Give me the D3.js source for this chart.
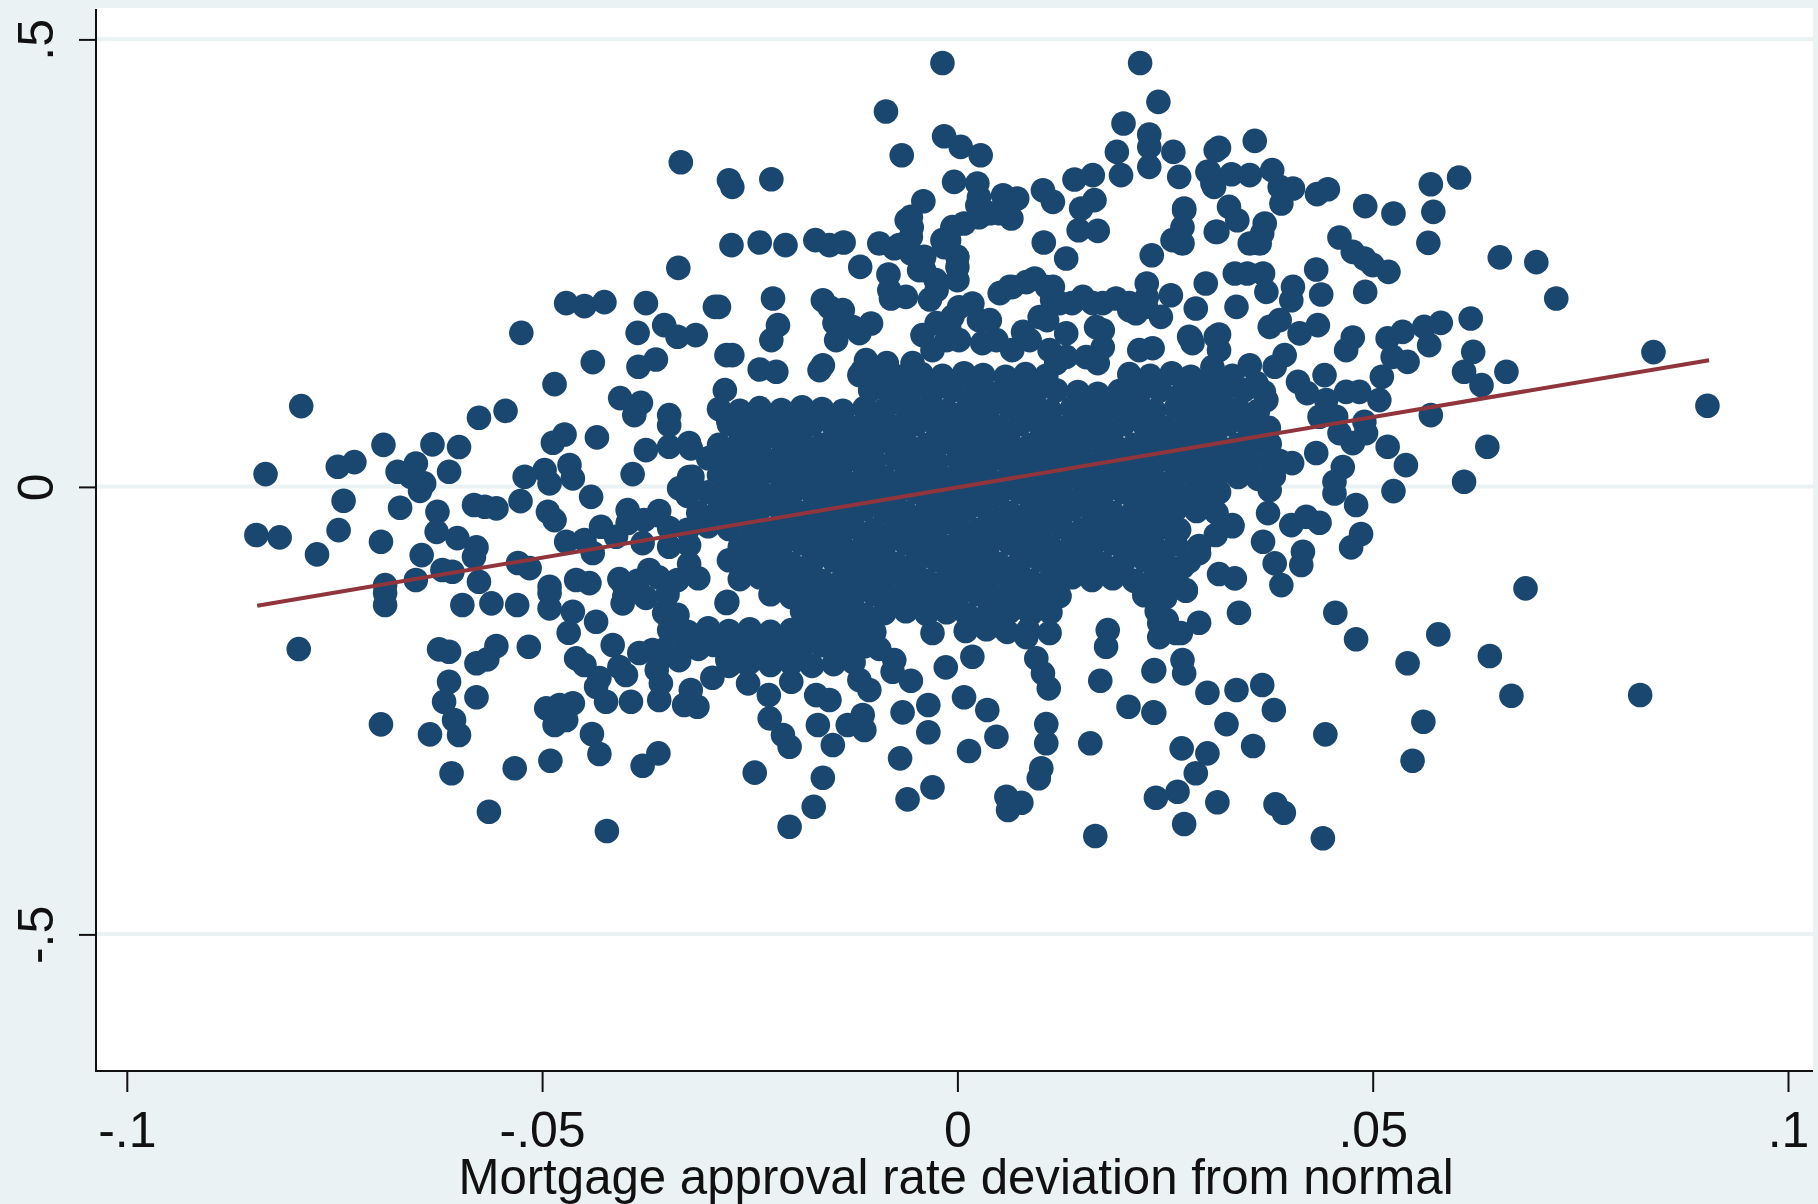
<!DOCTYPE html>
<html>
<head>
<meta charset="utf-8">
<script src="https://cdn.jsdelivr.net/npm/d3@7"></script>
<style>
  html, body { margin: 0; padding: 0; background: #eaf2f3; }
  svg { display: block; }
  text { font-family: "Liberation Sans", Arial, sans-serif; fill: #111; }
</style>
</head>
<body>
<script>
// values: [approval rate deviation, outcome deviation]
var leftPoints = [[-.0790,.0903],[-.0833,.0143],[-.0844,-.0538],[-.0816,-.0564],[-.0771,-.0754],[-.0745,-.0483],[-.0739,-.0155],[-.0746,.0225],[-.0726,.0277],[-.0691,.0470],[-.0632,.0475],[-.0600,.0445],[-.0576,.0772],[-.0544,.0850],[-.0525,.1721],[-.0485,.1148],[-.0439,.1394],[-.0385,.1721],[-.0353,.1807],[-.0337,.1677],[-.0315,.1696],[-.0384,.1342],[-.0363,.1424],[-.0406,.0992],[-.0381,.0939],[-.0389,.0802],[-.0347,.0802],[-.0347,.0690],[-.0434,.0553],[-.0473,.0586],[-.0487,.0493],[-.0292,.2012],[-.0375,.2053],[-.0471,.2053],[-.0449,.2020],[-.0425,.2064],[-.0278,.1472],[-.0280,.1081],[-.0276,.0746],[-.0674,.0169],[-.0652,.0262],[-.0658,.0113],[-.0642,.0039],[-.0647,-.0044],[-.0612,.0169],[-.0671,-.0233],[-.0626,-.0278],[-.0627,-.0502],[-.0602,-.0572],[-.0579,-.0676],[-.0582,-.0781],[-.0645,-.0762],[-.0652,-.1041],[-.0620,-.0929],[-.0608,-.0948],[-.0576,-.1060],[-.0689,-.1097],[-.0694,-.0613],[-.0582,-.0203],[-.0569,-.0222],[-.0555,-.0240],[-.0526,-.0159],[-.0521,.0113],[-.0497,.0188],[-.0467,.0244],[-.0463,.0095],[-.0491,.0039],[-.0441,-.0111],[-.0493,-.0278],[-.0485,-.0371],[-.0471,-.0613],[-.0449,-.0594],[-.0429,-.0446],[-.0397,-.0259],[-.0397,-.0404],[-.0377,-.0371],[-.0361,-.0315],[-.0411,-.0557],[-.0439,-.0739],[-.0529,-.0851],[-.0515,-.0907],[-.0491,-.1116],[-.0459,-.1041],[-.0443,-.1075],[-.0391,.0143],[-.0375,.0411],[-.0347,.0448],[-.0321,.0430],[-.0295,.0336],[-.0335,-.0017],[-.0319,.0113],[-.0347,-.0669],[-.0379,-.0628],[-.0403,-.1075],[-.0371,-.0929],[-.0333,.3628],[-.0336,.2447]];
var lowerLeftPoints = [[-.0793,-.1812],[-.0694,-.2653],[-.0635,-.2765],[-.0600,-.2772],[-.0606,-.2605],[-.0618,-.2400],[-.0612,-.2177],[-.0579,-.2351],[-.0609,-.3200],[-.0533,-.3144],[-.0490,-.3059],[-.0564,-.3629],[-.0422,-.3845],[-.0440,-.2761],[-.0431,-.2985],[-.0379,-.3115],[-.0360,-.2977],[-.0624,-.1815],[-.0612,-.1842],[-.0579,-.1971],[-.0566,-.1927],[-.0555,-.1778],[-.0516,-.1786],[-.0689,-.1320],[-.0689,-.1186],[-.0596,-.1320],[-.0561,-.1301],[-.0530,-.1320],[-.0491,-.1357],[-.0491,-.1186],[-.0463,-.1395],[-.0468,-.1630],[-.0435,-.1507],[-.0459,-.1916],[-.0449,-.1990],[-.0431,-.2136],[-.0435,-.2233],[-.0423,-.2400],[-.0415,-.1767],[-.0393,-.2400],[-.0359,-.2381],[-.0357,-.2195],[-.0329,-.2437],[-.0313,-.2456],[-.0321,-.2270],[-.0295,-.2132],[-.0495,-.2474],[-.0479,-.2437],[-.0463,-.2418],[-.0485,-.2661],[-.0471,-.2605],[-.0403,-.1301],[-.0367,-.1823],[-.0338,-.1745],[-.0323,-.1633],[-.0350,-.1376],[-.0407,-.2013],[-.0399,-.2102],[-.0383,-.1856],[-.0355,-.1901],[-.0335,-.1935],[-.0362,-.2046],[-.0293,-.1767],[-.0277,-.1935],[-.0278,-.1298]];
var topPoints = [[-.0018,.4737],[.0220,.4737],[.0242,.4302],[-.0086,.4194],[.0200,.4060],[.0231,.3937],[.0231,.3799],[.0231,.3576],[.0260,.3743],[.0267,.3464],[.0192,.3743],[.0197,.3483],[.0141,.3435],[.0163,.3483],[.0165,.3204],[.0149,.3111],[.0146,.2868],[.0169,.2861],[-.0016,.3918],[.0004,.3799],[.0028,.3706],[-.0067,.3706],[-.0004,.3408],[.0024,.3390],[.0024,.3148],[.0008,.2943],[-.0010,.2757],[-.0041,.3192],[-.0056,.3017],[-.0056,.2794],[-.0094,.2720],[-.0076,.2667],[-.0040,.2570],[-.0026,.2310],[-.0046,.2422],[.0000,.2458],[-.0117,.2458],[-.0083,.2374],[-.0080,.2105],[-.0062,.2123],[-.0033,.2094],[.0055,.3259],[.0072,.3222],[.0065,.2999],[.0051,.3058],[.0103,.3315],[.0115,.3185],[.0104,.2731],[.0131,.2552],[.0273,.3111],[.0259,.2757],[.0269,.2738],[.0234,.2589],[.0303,.3520],[.0311,.3762],[.0307,.3393],[.0311,.2849],[-.0272,.2701],[-.0238,.2731],[-.0207,.2701],[-.0171,.2757],[-.0154,.2701],[-.0137,.2731],[-.0275,.3427],[-.0271,.3352],[-.0224,.3438],[-.0222,.2105],[-.0216,.1807],[-.0224,.1640],[-.0271,.1472],[-.0238,.1312],[-.0218,.1286],[-.0287,.2012],[-.0162,.2086],[-.0138,.1975],[-.0142,.1751],[-.0104,.1826],[-.0146,.1640],[-.0162,.1360],[-.0110,.1416],[-.0042,.1696],[-.0006,.1900],[.0018,.2050],[.0039,.1863],[.0063,.2235],[.0093,.2329],[.0115,.2235],[.0151,.2123],[.0191,.2105],[.0228,.2273],[.0257,.2142],[.0299,.2273],[.0287,.1994],[.0227,.2012],[.0245,.1900],[.0215,.1941],[.0279,.1677],[.0283,.1606],[.0219,.1528],[.0235,.1550],[.0311,.1677],[.0079,.1732],[.0131,.1715],[.0131,.1453],[.0175,.1751],[.0169,.1383],[.0119,.1383]];
var bridgePoints = [[.0051,.2165],[.0066,.2232],[.0083,.2288],[.0108,.2232],[.0114,.2087],[.0108,.1863],[.0099,.1897],[.0123,.2053],[.0138,.2053],[.0163,.2053],[.0175,.2053],[.0207,.2053],[.0228,.2120],[.0207,.1975],[.0167,.1785],[.0175,.1561],[.0002,.2008],[-.0010,.1785],[-.0025,.1830],[.0002,.1640],[.0026,.1863],[.0030,.1606],[.0047,.1640],[.0066,.1528],[.0087,.1640],[.0111,.1528],[.0155,.1450],[-.0013,.1640],[-.0030,.1528],[-.0054,.1383],[-.0085,.1383],[-.0114,.1305],[-.0154,.2008],[-.0148,.1830],[-.0126,.1785],[-.0118,.1718],[-.0166,.1305],[-.0070,.2701],[-.0056,.2611],[-.0040,.2422],[-.0025,.2199],[.0000,.2570],[.0000,.2310],[-.0082,.2199],[-.0006,.2902],[-.0018,.2757],[-.0016,.2679],[.0039,.3058],[.0026,.3237],[.0026,.3013],[-.0055,.2902],[-.0061,.2980]];
var upperRightPoints = [[.0358,.3866],[.0315,.3788],[.0301,.3520],[.0309,.3352],[.0330,.3494],[.0352,.3483],[.0379,.3539],[.0388,.3352],[.0404,.3334],[.0390,.3167],[.0433,.3271],[.0446,.3326],[.0491,.3137],[.0525,.3055],[.0570,.3382],[.0604,.3457],[.0573,.3073],[.0567,.2727],[.0653,.2564],[.0697,.2511],[.0721,.2105],[.0460,.2787],[.0476,.2626],[.0490,.2552],[.0500,.2478],[.0519,.2403],[.0491,.2179],[.0327,.3129],[.0337,.2980],[.0313,.2849],[.0370,.2943],[.0367,.2835],[.0352,.2720],[.0364,.2720],[.0273,.3092],[.0271,.2720],[.0271,.2902],[.0334,.2385],[.0349,.2385],[.0368,.2385],[.0372,.2179],[.0432,.2429],[.0438,.2150],[.0404,.2235],[.0402,.2086],[.0336,.2012],[.0388,.1863],[.0376,.1788],[.0412,.1715],[.0434,.1807],[.0281,.1662],[.0315,.1703],[.0315,.1528],[.0352,.1360],[.0394,.1472],[.0382,.1342],[.0476,.1670],[.0468,.1528],[.0518,.1659],[.0536,.1732],[.0562,.1788],[.0582,.1833],[.0568,.1584],[.0524,.1453],[.0542,.1397],[.0618,.1882],[.0621,.1509],[.0610,.1286],[.0631,.1137],[.0661,.1286],[.0511,.1230],[.0508,.0970],[.0442,.1249],[.0410,.1174],[.0421,.1048],[.0468,.1062],[.0484,.1062],[.0444,.0970],[.0436,.0783],[.0456,.0783],[.0490,.0727],[.0570,.0802],[.0638,.0448],[.0518,.0448],[.0540,.0243],[.0492,.0601],[.0464,.0221],[.0476,.0489],[.0432,.0378],[.0403,.0266],[.0460,.0601],[.0307,.1338],[.0327,.1159],[.0360,.1159],[.0348,.0780],[.0307,.0780],[.0372,.0970],[.0838,.1506],[.0903,.0906]];
var lowerRightPoints = [[.0610,.0057],[.0525,-.0047],[.0480,-.0203],[.0454,-.0073],[.0454,.0057],[.0486,-.0527],[.0474,-.0676],[.0684,-.1134],[.0579,-.1648],[.0641,-.1890],[.0667,-.2333],[.0455,-.1406],[.0480,-.1703],[.0542,-.1971],[.0561,-.2624],[.0548,-.3059],[.0443,-.2765],[.0367,-.2214],[.0381,-.2493],[.0336,-.2270],[.0301,-.2300],[.0324,-.2650],[.0356,-.2895],[.0270,-.2921],[.0301,-.2977],[.0287,-.3200],[.0265,-.3406],[.0239,-.3473],[.0313,-.3524],[.0273,-.3767],[.0383,-.3546],[.0393,-.3640],[.0440,-.3926],[.0339,-.1406],[.0291,-.1518],[.0275,-.1161],[.0315,-.0974],[.0334,-.1022],[.0390,-.1097],[.0382,-.0855],[.0368,-.0613],[.0414,-.0873],[.0416,-.0725],[.0436,-.0401],[.0420,-.0334],[.0402,-.0427],[.0376,-.0036],[.0374,-.0293],[.0271,-.1935],[.0273,-.2083],[.0237,-.2046],[.0237,-.2523],[.0269,-.1633],[.0243,-.1678],[.0311,-.0538],[.0291,-.0739],[.0271,-.0896],[.0331,-.0427],[.0252,-.1119],[.0252,-.1488],[.0311,0],[.0822,-.2325]];
var bottomPoints = [[-.0244,-.3193],[-.0162,-.3249],[-.0173,-.3573],[-.0202,-.3797],[-.0069,-.3033],[-.0030,-.3357],[-.0060,-.3491],[.0014,-.2951],[-.0066,-.2519],[-.0035,-.2437],[-.0035,-.2742],[.0008,-.2351],[.0036,-.2493],[.0047,-.2791],[.0107,-.2650],[.0107,-.2865],[.0101,-.3144],[.0098,-.3256],[.0059,-.3462],[.0061,-.3610],[.0077,-.3529],[.0166,-.3901],[.0160,-.2865],[.0206,-.2456],[.0236,-.2519],[.0172,-.2166],[.0236,-.2058],[.0095,-.1916],[.0103,-.2083],[.0110,-.2251],[-.0202,-.2903],[-.0210,-.2772],[-.0226,-.2586],[-.0227,-.2326],[-.0252,-.2195],[-.0170,-.2326],[-.0154,-.2381],[-.0168,-.2661],[-.0150,-.2884],[-.0132,-.2661],[-.0114,-.2549],[-.0112,-.2717],[-.0076,-.1935],[-.0078,-.2065],[-.0056,-.2166],[-.0014,-.2016],[.0018,-.1898],[-.0277,-.1283],[-.0200,-.2177],[-.0106,-.2270],[-.0118,-.2158],[.0179,-.1786],[.0181,-.1600],[.0275,-.1153],[.0243,-.1521],[.0263,-.1633],[-.0030,-.1633],[.0111,-.1633],[.0054,-.1566],[.0083,-.1678],[-.0254,-.1971]];
var corePoints = [
[-.0118,.125],[-.0092,.127],[-.0069,.123],[-.0043,.126],[-.0018,.124],[.0008,.127],[.0031,.125],[.0058,.123],[.0082,.126],[.0107,.124],[.0207,.126],[.0232,.124],[.0258,.127],[.0281,.123],[.0307,.126],[.0331,.124],
[-.0105,.108],[-.0081,.104],[-.0056,.107],[-.0031,.105],[-.0006,.108],[.0020,.106],[.0044,.104],[.0070,.107],[.0094,.105],[.0119,.108],[.0145,.106],[.0169,.104],[.0195,.107],[.0219,.105],[.0244,.108],[.0270,.104],[.0294,.107],[.0319,.105],[.0345,.108],[.0369,.106],
[-.0287,.087],[-.0262,.085],[-.0238,.088],[-.0212,.086],[-.0187,.089],[-.0163,.087],[-.0138,.085],[-.0112,.088],[-.0088,.086],[-.0062,.089],[-.0037,.087],[-.0013,.085],[.0012,.088],[.0037,.086],[.0063,.089],[.0088,.087],[.0112,.085],[.0138,.088],[.0162,.086],[.0187,.089],[.0213,.087],[.0237,.085],[.0263,.088],[.0288,.086],[.0312,.089],[.0338,.087],[.0362,.085],
[-.0275,.070],[-.0250,.066],[-.0225,.069],[-.0200,.067],[-.0175,.070],[-.0149,.068],[-.0125,.066],[-.0100,.069],[-.0074,.067],[-.0050,.070],[-.0025,.068],[.0001,.066],[.0025,.069],[.0050,.067],[.0075,.070],[.0100,.068],[.0125,.066],[.0150,.069],[.0175,.067],[.0200,.070],[.0226,.068],[.0250,.066],[.0275,.069],[.0300,.067],[.0325,.070],[.0350,.068],[.0375,.066],
[-.0323,.049],[-.0287,.047],[-.0262,.050],[-.0238,.048],[-.0212,.051],[-.0187,.049],[-.0163,.047],[-.0138,.050],[-.0112,.048],[-.0088,.051],[-.0062,.049],[-.0037,.047],[-.0013,.050],[.0012,.048],[.0037,.051],[.0063,.049],[.0088,.047],[.0112,.050],[.0138,.048],[.0162,.051],[.0187,.049],[.0213,.047],[.0237,.050],[.0263,.048],[.0288,.051],[.0312,.049],[.0338,.047],[.0362,.050],[.0376,.048],
[-.0300,.032],[-.0275,.028],[-.0250,.031],[-.0225,.029],[-.0200,.032],[-.0175,.030],[-.0149,.028],[-.0125,.031],[-.0100,.029],[-.0074,.032],[-.0050,.030],[-.0025,.028],[.0001,.031],[.0025,.029],[.0050,.032],[.0075,.030],[.0100,.028],[.0125,.031],[.0150,.029],[.0175,.032],[.0200,.030],[.0226,.028],[.0250,.031],[.0275,.029],[.0300,.032],[.0325,.030],[.0350,.028],[.0375,.031],[.0388,.029],
[-.0323,.011],[-.0287,.013],[-.0262,.009],[-.0238,.012],[-.0212,.010],[-.0187,.013],[-.0163,.011],[-.0138,.009],[-.0112,.012],[-.0088,.010],[-.0062,.013],[-.0037,.011],[-.0013,.009],[.0012,.012],[.0037,.010],[.0063,.013],[.0088,.011],[.0112,.009],[.0138,.012],[.0162,.010],[.0187,.013],[.0213,.011],[.0237,.009],[.0263,.012],[.0288,.010],[.0312,.013],[.0338,.011],[.0362,.009],[.0381,.012],
[-.0325,-.010],[-.0300,-.006],[-.0275,-.009],[-.0250,-.007],[-.0225,-.010],[-.0200,-.008],[-.0175,-.006],[-.0149,-.009],[-.0125,-.007],[-.0100,-.010],[-.0074,-.008],[-.0050,-.006],[-.0025,-.009],[.0001,-.007],[.0025,-.010],[.0050,-.008],[.0075,-.006],[.0100,-.009],[.0125,-.007],[.0150,-.010],[.0175,-.008],[.0200,-.006],[.0226,-.009],[.0250,-.007],[.0275,-.010],[.0300,-.008],[.0315,-.006],
[-.0359,-.027],[-.0312,-.029],[-.0287,-.026],[-.0262,-.028],[-.0238,-.025],[-.0212,-.027],[-.0187,-.029],[-.0163,-.026],[-.0138,-.028],[-.0112,-.025],[-.0088,-.027],[-.0062,-.029],[-.0037,-.026],[-.0013,-.028],[.0012,-.025],[.0037,-.027],[.0063,-.029],[.0088,-.026],[.0112,-.028],[.0138,-.025],[.0162,-.027],[.0187,-.029],[.0213,-.026],[.0237,-.028],[.0263,-.025],[.0288,-.027],[.0312,-.029],
[-.0347,-.046],[-.0325,-.048],[-.0300,-.044],[-.0275,-.047],[-.0250,-.045],[-.0225,-.048],[-.0200,-.046],[-.0175,-.044],[-.0149,-.047],[-.0125,-.045],[-.0100,-.048],[-.0074,-.046],[-.0050,-.044],[-.0025,-.047],[.0001,-.045],[.0025,-.048],[.0050,-.046],[.0075,-.044],[.0100,-.047],[.0125,-.045],[.0150,-.048],[.0175,-.046],[.0200,-.044],[.0226,-.047],[.0250,-.045],[.0267,-.048],[.0331,-.044],
[-.0323,-.065],[-.0262,-.067],[-.0238,-.064],[-.0212,-.066],[-.0187,-.063],[-.0163,-.065],[-.0138,-.067],[-.0112,-.064],[-.0088,-.066],[-.0062,-.063],[-.0037,-.065],[-.0013,-.067],[.0012,-.064],[.0037,-.066],[.0063,-.063],[.0088,-.065],[.0112,-.067],[.0138,-.064],[.0162,-.066],[.0187,-.063],[.0213,-.065],[.0237,-.067],[.0263,-.064],[.0291,-.066],
[-.0323,-.086],[-.0275,-.082],[-.0250,-.085],[-.0225,-.083],[-.0200,-.086],[-.0175,-.084],[-.0149,-.082],[-.0125,-.085],[-.0100,-.083],[-.0074,-.086],[-.0050,-.084],[-.0025,-.082],[.0001,-.085],[.0025,-.083],[.0050,-.086],[.0075,-.084],[.0100,-.082],[.0125,-.085],[.0150,-.083],[.0175,-.086],[.0200,-.084],[.0226,-.082],[.0250,-.085],[.0279,-.083],
[-.0407,-.103],[-.0385,-.105],[-.0360,-.101],[-.0337,-.104],[-.0312,-.102],[-.0262,-.103],[-.0238,-.101],[-.0212,-.104],[-.0187,-.102],[-.0163,-.105],[-.0138,-.103],[-.0112,-.101],[-.0088,-.104],[-.0062,-.102],[-.0037,-.105],[-.0013,-.103],[.0012,-.101],[.0037,-.104],[.0063,-.102],[.0088,-.105],[.0112,-.103],[.0138,-.101],[.0162,-.104],[.0187,-.102],[.0213,-.105],[.0237,-.103],[.0255,-.101],
[-.0401,-.122],[-.0375,-.124],[-.0349,-.120],[-.0225,-.120],[-.0200,-.123],[-.0175,-.121],[-.0149,-.124],[-.0125,-.122],[-.0100,-.120],[-.0074,-.123],[-.0050,-.121],[-.0025,-.124],[.0001,-.122],[.0025,-.120],[.0050,-.123],[.0075,-.121],[.0100,-.124],[.0123,-.122],[.0225,-.121],[.0250,-.124],
[-.0353,-.141],[-.0337,-.143],[-.0187,-.139],[-.0163,-.142],[-.0138,-.140],[-.0112,-.143],[-.0088,-.141],[-.0062,-.139],[-.0037,-.142],[-.0013,-.140],[.0012,-.143],[.0037,-.141],[.0063,-.139],[.0088,-.142],[.0112,-.140],[.0240,-.139],
[-.0347,-.160],[-.0325,-.162],[-.0300,-.158],[-.0275,-.161],[-.0250,-.159],[-.0225,-.162],[-.0200,-.160],[-.0175,-.158],[-.0149,-.161],[-.0125,-.159],[-.0100,-.162],[.0010,-.161],[.0035,-.159],[.0060,-.162],[.0085,-.160],
[-.0349,-.179],[-.0312,-.181],[-.0287,-.177],[-.0262,-.180],[-.0238,-.178],[-.0212,-.181],[-.0187,-.179],[-.0163,-.177],[-.0138,-.180],[-.0112,-.178],[-.0094,-.181],
[-.0275,-.200],[-.0250,-.196],[-.0225,-.199],[-.0200,-.197],[-.0175,-.200],[-.0149,-.198],[-.0125,-.196]
];
var scatter = leftPoints.concat(lowerLeftPoints, topPoints, bridgePoints, upperRightPoints, lowerRightPoints, bottomPoints, corePoints);

// fitted line ends
var fitX = [-.0843, .0905];
var fitY = [-.1329, .1416];

var xTicks = [-.1, -.05, 0, .05, .1];
var xTickLabels = ["-.1", "-.05", "0", ".05", ".1"];
var yTicks = [-.5, 0, .5];
var yTickLabels = ["-.5", "0", ".5"];
var xTitle = "Mortgage approval rate deviation from normal";

var width = 1818;
var height = 1204;
var plotLeft = 96;
var plotRight = 1813;
var plotTop = 8;
var plotBottom = 1071;

var svg = d3.select("body").append("svg")
    .attr("width", width)
    .attr("height", height);

// create x scale
var xScale = d3.scaleLinear()
    .domain([-.1, .1])
    .range([126.8, 1788]);

// create y scale
var yScale = d3.scaleLinear()
    .domain([-.5, .5])
    .range([934.4, 39.4]);

// outer background
svg.append("rect")
    .attr("width", width)
    .attr("height", height)
    .attr("fill", "#eaf2f3");

// plot region
svg.append("rect")
    .attr("x", plotLeft)
    .attr("y", plotTop)
    .attr("width", plotRight - plotLeft)
    .attr("height", plotBottom - plotTop)
    .attr("fill", "#ffffff");

// horizontal grid
svg.append("g")
    .selectAll("line")
    .data(yTicks)
    .enter().append("line")
    .attr("x1", plotLeft)
    .attr("x2", plotRight)
    .attr("y1", function(d) { return yScale(d) - 0.5; })
    .attr("y2", function(d) { return yScale(d) - 0.5; })
    .attr("stroke", "#eaf2f3")
    .attr("stroke-width", 4);

// points
svg.append("g")
    .selectAll("circle")
    .data(scatter)
    .enter().append("circle")
    .attr("cx", function(d) { return xScale(d[0]); })
    .attr("cy", function(d) { return yScale(d[1]); })
    .attr("r", 12.3)
    .attr("fill", "#1a476f");

// fitted line
var fitLine = d3.line()
    .x(function(d) { return xScale(d); })
    .y(function(d, i) { return yScale(fitY[i]); });

svg.append("path")
    .datum(fitX)
    .attr("d", fitLine)
    .attr("fill", "none")
    .attr("stroke", "#90353b")
    .attr("stroke-width", 4);

// axes
var xAxis = d3.axisBottom(xScale)
    .tickValues(xTicks)
    .tickSize(21)
    .tickFormat(function(d, i) { return xTickLabels[i]; });

var yAxis = d3.axisLeft(yScale)
    .tickValues(yTicks)
    .tickSize(17)
    .tickFormat(function(d, i) { return yTickLabels[i]; });

var gx = svg.append("g")
    .attr("transform", "translate(0," + plotBottom + ")")
    .call(xAxis);
gx.select(".domain").remove();
gx.selectAll("line").attr("stroke", "#111").attr("stroke-width", 2);
gx.selectAll("text")
    .attr("y", 76)
    .attr("dy", 0)
    .attr("font-size", 50)
    .style("fill", "#111")
    .style("font-family", '"Liberation Sans", Arial, sans-serif');

var gy = svg.append("g")
    .attr("transform", "translate(" + plotLeft + ",0)")
    .call(yAxis);
gy.select(".domain").remove();
gy.selectAll("line").attr("stroke", "#111").attr("stroke-width", 2);
gy.selectAll("text")
    .attr("text-anchor", "middle")
    .attr("transform", "translate(-43,0) rotate(-90)")
    .attr("x", 0)
    .attr("y", 0)
    .attr("dy", 0)
    .attr("font-size", 50)
    .style("fill", "#111")
    .style("font-family", '"Liberation Sans", Arial, sans-serif');

// axis lines
svg.append("line")
    .attr("x1", plotLeft).attr("x2", plotLeft)
    .attr("y1", plotTop + 1).attr("y2", plotBottom + 1)
    .attr("stroke", "#111").attr("stroke-width", 2);
svg.append("line")
    .attr("x1", plotLeft).attr("x2", plotRight)
    .attr("y1", plotBottom).attr("y2", plotBottom)
    .attr("stroke", "#111").attr("stroke-width", 2);

// x title
svg.append("text")
    .attr("x", 956)
    .attr("y", 1194)
    .attr("text-anchor", "middle")
    .attr("font-size", 49.2)
    .text(xTitle);
</script>
</body>
</html>
